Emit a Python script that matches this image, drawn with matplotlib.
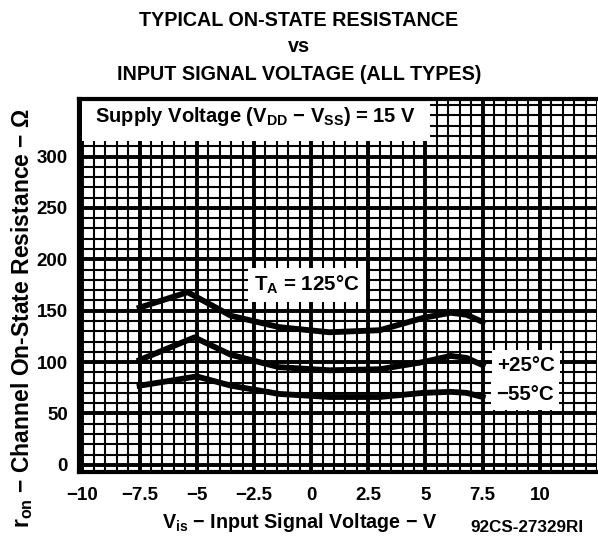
import matplotlib
matplotlib.use("Agg")
import matplotlib.pyplot as plt
import numpy as np

plt.rcParams['font.family'] = ['Liberation Sans', 'DejaVu Sans']
plt.rcParams['font.weight'] = 'bold'
plt.rcParams['mathtext.fontset'] = 'custom'
plt.rcParams['mathtext.rm'] = 'Liberation Sans:bold'
plt.rcParams['mathtext.it'] = 'Liberation Sans:bold'
plt.rcParams['mathtext.bf'] = 'Liberation Sans:bold'

# ---- data ----
x_125 = [-7.5, -5.4, -3.5, -1.4, 0.8, 3.0, 4.9, 6.1, 6.8, 7.5]
r_125 = [153, 168, 145, 134, 129, 131, 143, 148, 146, 139]
x_25 = [-7.5, -5.1, -3.5, -1.4, 0.8, 3.0, 4.9, 6.1, 6.8, 7.5]
r_25 = [102, 124, 107, 95, 92, 93, 100, 106, 104, 97]
x_m55 = [-7.5, -5.0, -3.5, -1.4, 0.8, 3.0, 4.9, 6.1, 6.8, 7.5]
r_m55 = [77, 86, 77, 69, 66, 66, 70, 71, 70, 66]

x_ticks = [-10, -7.5, -5, -2.5, 0, 2.5, 5, 7.5, 10]
x_tick_labels = ['\u221210', '\u22127.5', '\u22125', '\u22122.5', '0', '2.5', '5', '7.5', '10']
y_ticks = [0, 50, 100, 150, 200, 250, 300]

fig = plt.figure(figsize=(5.98, 5.5), dpi=100)
ax = fig.add_axes([79/598, 1-472/550, (597-79)/598, (472-99)/550])

ax.set_xlim(-10.15, 12.5)
ax.set_ylim(-7, 356)

ax.set_xticks(x_ticks)
ax.set_xticklabels(x_tick_labels)
ax.set_yticks(y_ticks)
ax.set_xticks(np.arange(-10, 12.51, 0.5), minor=True)
ax.set_yticks(np.arange(0, 351, 10), minor=True)
ax.tick_params(which='both', length=0)
ax.tick_params(axis='x', pad=11, labelsize=13.5)
ax.tick_params(axis='y', pad=8, labelsize=13.5)

ax.grid(which='major', color='black', linewidth=2.8)
ax.grid(which='minor', color='black', linewidth=1.5)
ax.set_axisbelow(True)

for s in ['left', 'bottom', 'top']:
    ax.spines[s].set_linewidth(3)
ax.spines['right'].set_visible(False)

for xs, rs in [(x_125, r_125), (x_25, r_25), (x_m55, r_m55)]:
    ax.plot(xs, rs, color='black', linewidth=4.2, solid_joinstyle='round', zorder=2.2)

ax.text(-0.17, 175, r'T$_{\mathrm{A}}$ = 125°C', fontsize=14.8, ha='center', va='center',
        bbox=dict(boxstyle='square,pad=0.3', facecolor='white', edgecolor='none'), zorder=2.3)
ax.text(9.4, 97, '+25°C', fontsize=14.8, ha='center', va='center',
        bbox=dict(boxstyle='square,pad=0.25', facecolor='white', edgecolor='none'), zorder=2.3)
ax.text(9.35, 68, '\u221255°C', fontsize=14.8, ha='center', va='center',
        bbox=dict(boxstyle='square,pad=0.25', facecolor='white', edgecolor='none'), zorder=2.3)

ax.text(-9.43, 339, r'Supply Voltage (V$_{\mathrm{DD}}$ $-$ V$_{\mathrm{SS}}$) = 15 V',
        fontsize=14.5, ha='left', va='center',
        bbox=dict(boxstyle='square,pad=0.65', facecolor='white', edgecolor='none'), zorder=2.3,
        clip_on=True)

fig.text(22/598, 1-318/550, r'r$_{\mathrm{on}}$ $-$ Channel On-State Resistance $-$ Ω',
         rotation=90, ha='center', va='center', fontsize=16.5, fontweight='bold')

fig.text(299/598, 1-20/550, 'TYPICAL ON-STATE RESISTANCE', ha='center', va='center',
         fontsize=14.2, fontweight='bold')
fig.text(299/598, 1-47/550, 'vs', ha='center', va='center', fontsize=14.2, fontweight='bold')
fig.text(299/598, 1-74/550, 'INPUT SIGNAL VOLTAGE (ALL TYPES)', ha='center', va='center',
         fontsize=14.2, fontweight='bold')

fig.text(300/598, 1-522/550, r'V$_{\mathrm{is}}$ $-$ Input Signal Voltage $-$ V', ha='center',
         va='center', fontsize=14.2, fontweight='bold')
fig.text(527/598, 1-528/550, '92CS-27329RI', ha='center', va='center', fontsize=12.3,
         fontweight='bold')

fig.savefig('out.png', dpi=100)
